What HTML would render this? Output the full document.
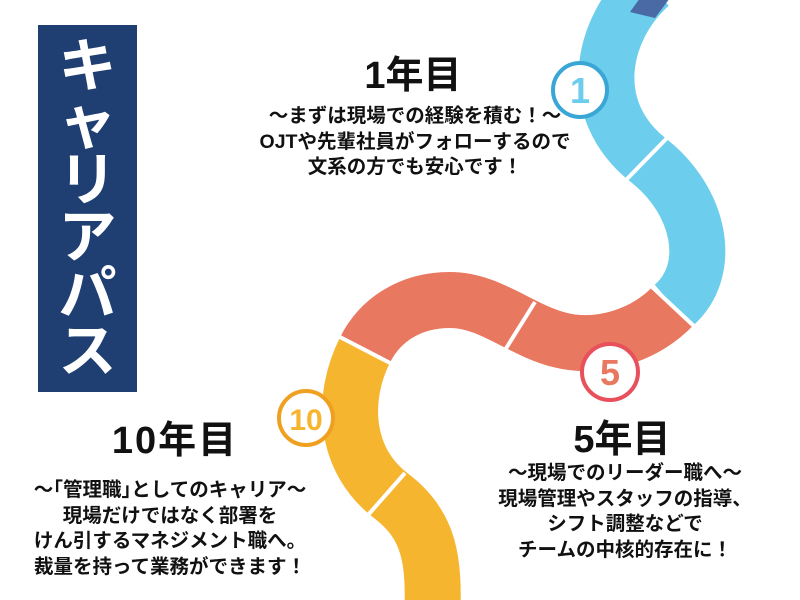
<!DOCTYPE html>
<html><head><meta charset="utf-8"><style>
html,body{margin:0;padding:0;background:#fff;}
body{width:800px;height:600px;position:relative;overflow:hidden;font-family:"Liberation Sans","Noto Sans CJK JP",sans-serif;color:#111;}
.box{position:absolute;left:38px;top:25px;width:99px;height:367px;background:#1f3f73;}
.vt{position:absolute;left:38px;top:38px;width:99px;text-align:center;color:#fff;font-weight:bold;font-size:58px;line-height:57px;}
.t{position:absolute;text-align:center;font-weight:bold;white-space:nowrap;}
.h{font-size:38px;line-height:40px;}
.b{font-size:19.5px;line-height:25.5px;}
</style></head><body>
<svg width="800" height="600" style="position:absolute;left:0;top:0">
<path d="M 650,-15 C 600,30 585,110 648,160 C 700,200 715,270 673,306" fill="none" stroke="#6ccdec" stroke-width="56"/>
<path d="M 673,306 C 645,335 600,350 560,340 C 520,330 490,300 450,300 C 410,300 380,320 365,350" fill="none" stroke="#e8785f" stroke-width="56"/>
<path d="M 365,350 C 340,400 345,460 390,495 C 430,525 435,560 432,620" fill="none" stroke="#f6b52f" stroke-width="56"/>
<path d="M 640,-2 L 670,-2 L 655,18 L 630,12 Z" fill="#4a6aa5"/>
<g stroke="#fff" stroke-width="4">
<line x1="626" y1="180" x2="670" y2="135"/>
<line x1="650" y1="285" x2="696" y2="328"/>
<line x1="505" y1="350" x2="535" y2="302"/>
<line x1="338" y1="336" x2="392" y2="364"/>
<line x1="368" y1="515" x2="405" y2="473"/>
</g>
<circle cx="580" cy="90" r="27" fill="#fff" stroke="#3aa6d6" stroke-width="4"/>
<text x="580" y="103" text-anchor="middle" font-family="Liberation Sans" font-weight="bold" font-size="36" fill="#6ccdec">1</text>
<circle cx="610" cy="372" r="28" fill="#fff" stroke="#e8505b" stroke-width="4"/>
<text x="610" y="385" text-anchor="middle" font-family="Liberation Sans" font-weight="bold" font-size="36" fill="#e8785f">5</text>
<circle cx="306" cy="418" r="27" fill="#fff" stroke="#f0a020" stroke-width="4"/>
<text x="306" y="430" text-anchor="middle" font-family="Liberation Sans" font-weight="bold" font-size="30" fill="#f6b52f">10</text>
</svg>
<div class="box"></div>
<div class="vt">キ<br>ャ<br>リ<br>ア<br>パ<br>ス</div>
<div class="t h" style="left:313px;width:200px;top:56px;">1年目</div>
<div class="t b" style="left:215px;width:400px;top:104px;">～まずは現場での経験を積む！～<br>OJTや先輩社員がフォローするので<br>文系の方でも安心です！</div>
<div class="t h" style="left:75px;width:200px;top:421px;letter-spacing:2px;">10年目</div>
<div class="t b" style="left:-30px;width:400px;top:478px;">～｢管理職｣としてのキャリア～<br>現場だけではなく部署を<br>けん引するマネジメント職へ。<br>裁量を持って業務ができます！</div>
<div class="t h" style="left:522px;width:200px;top:420px;">5年目</div>
<div class="t b" style="left:425px;width:400px;top:461px;">～現場でのリーダー職へ～<br>現場管理やスタッフの指導、<br>シフト調整などで<br>チームの中核的存在に！</div>
</body></html>
